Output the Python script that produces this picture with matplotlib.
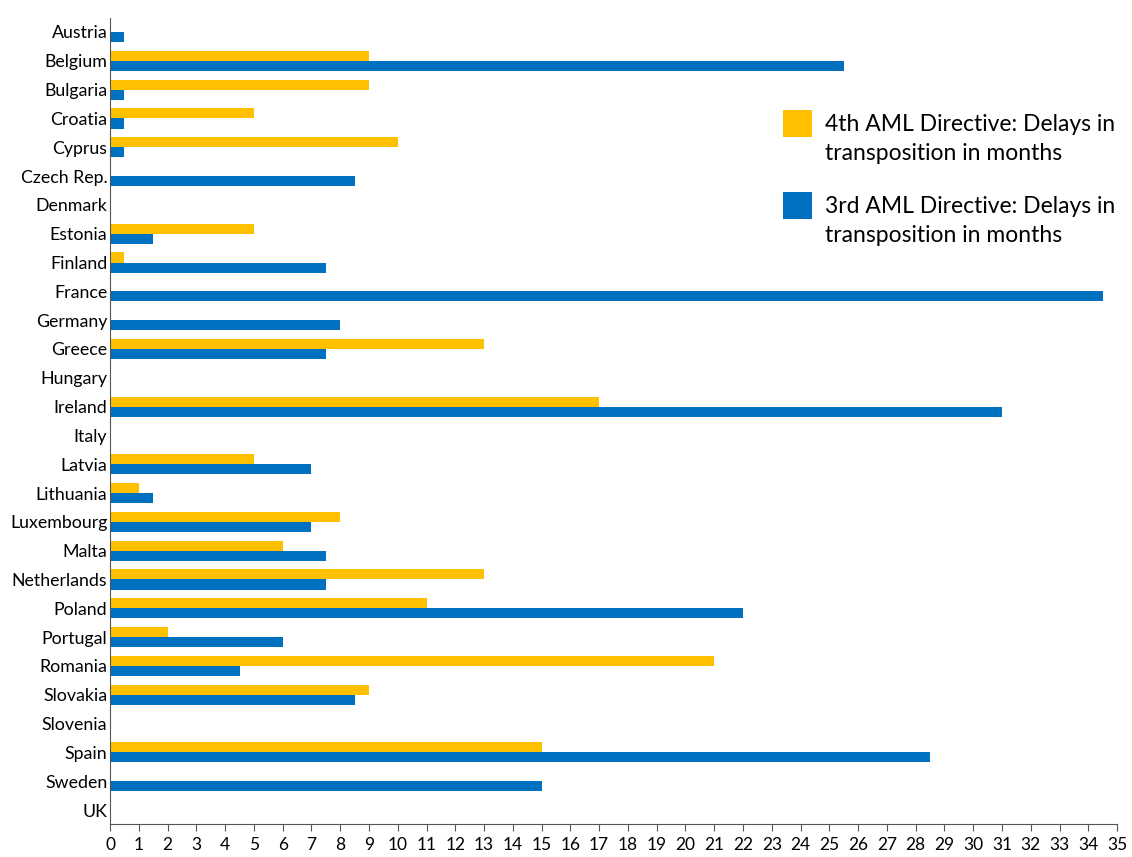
import matplotlib.pyplot as plt
import numpy as np
from matplotlib.patches import Rectangle

# --- Datos ---
countries = ["Austria", "Belgium", "Bulgaria", "Croatia", "Cyprus", "Czech Rep.",
             "Denmark", "Estonia", "Finland", "France", "Germany", "Greece",
             "Hungary", "Ireland", "Italy", "Latvia", "Lithuania", "Luxembourg",
             "Malta", "Netherlands", "Poland", "Portugal", "Romania", "Slovakia",
             "Slovenia", "Spain", "Sweden", "UK"]
aml4_delay = [0, 9, 9, 5, 10, 0, 0, 5, 0.5, 0, 0, 13, 0, 17, 0, 5, 1, 8,
              6, 13, 11, 2, 21, 9, 0, 15, 0, 0]
aml3_delay = [0.5, 25.5, 0.5, 0.5, 0.5, 8.5, 0, 1.5, 7.5, 34.5, 8, 7.5, 0, 31, 0, 7, 1.5, 7,
              7.5, 7.5, 22, 6, 4.5, 8.5, 0, 28.5, 15, 0]
label_4th = "4th AML Directive: Delays in\ntransposition in months"
label_3rd = "3rd AML Directive: Delays in\ntransposition in months"

YELLOW = "#FFC000"
BLUE = "#0070C0"

plt.rcParams['font.family'] = ['Lato', 'DejaVu Sans']

W, H = 1132, 857
fig = plt.figure(figsize=(W / 100, H / 100), dpi=100)
ax = fig.add_axes([0.0972, 0.038, 0.8896, 0.9415])

y = np.arange(len(countries))
h = 0.35
ax.barh(y - h / 2, aml4_delay, height=h, color=YELLOW)
ax.barh(y + h / 2, aml3_delay, height=h, color=BLUE)

ax.set_ylim(len(countries) - 0.5, -0.5)
ax.set_xlim(0, 35)
ax.set_xticks(range(0, 36))
ax.set_yticks(y)
ax.set_yticklabels(countries, fontsize=12.8)
ax.tick_params(axis='y', length=0, pad=2)
ax.tick_params(axis='x', length=5, labelsize=12.5, color='#555555', pad=4)
for s in ['top', 'right']:
    ax.spines[s].set_visible(False)
ax.spines['left'].set_color('#555555')
ax.spines['bottom'].set_color('#555555')

# Leyenda manual (cuadro alineado con la primera línea del texto)
for top_px, color, label in [(110, YELLOW, label_4th), (192, BLUE, label_3rd)]:
    fig.patches.append(Rectangle((783 / W, 1 - (top_px + 27) / H), 29 / W, 27 / H,
                                 transform=fig.transFigure, facecolor=color,
                                 edgecolor='none'))
    fig.text(825 / W, 1 - (top_px + 4) / H, label, fontsize=16.5,
             va='top', ha='left', linespacing=1.5,
             transform=fig.transFigure)

fig.savefig("out.png", dpi=100)
